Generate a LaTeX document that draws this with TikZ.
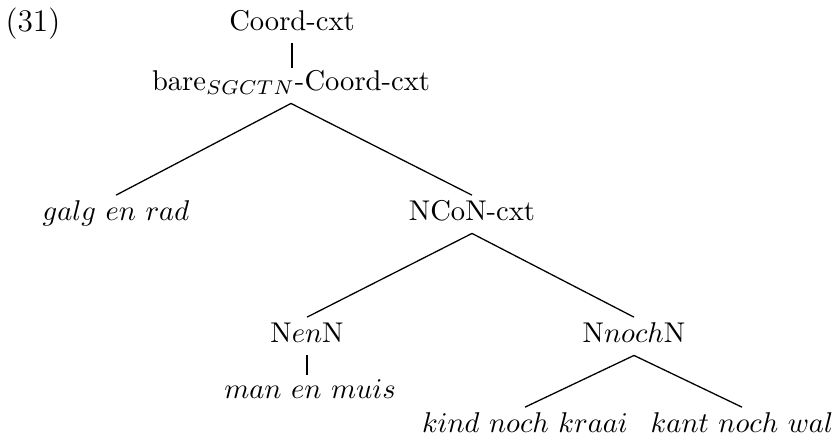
\documentclass[tikz,border=0pt]{standalone}
\begin{document}
\begin{tikzpicture}[x=0.35pt,y=-0.35pt,
  lbl/.style={anchor=base,inner xsep=0pt,inner ysep=1.5pt,text height=7pt,text depth=3pt},
  edge/.style={draw=black,line width=0.45pt}]
\useasboundingbox (0,0) rectangle (833,441);
\node[anchor=base west,inner sep=0pt,font=\fontsize{11}{13}\selectfont] (ex) at (5,31) {(31)};
\node[lbl] (root) at (292,30) {Coord-cxt};
\node[lbl] (bare) at (291,90) {bare$_{SGCTN}$-Coord-cxt};
\coordinate (bareTop) at (292,68);
\node[lbl] (galg) at (116,220) {$galg\ en\ rad$};
\node[lbl] (ncon) at (472,220) {NCoN-cxt};
\node[lbl] (nenn) at (307,342) {N$en$N};
\node[lbl] (nnoch) at (634,342) {N$noch$N};
\node[lbl] (muis) at (310,398) {$man\ en\ muis$};
\coordinate (muisTop) at (307,375);
\node[lbl] (kraai) at (525,432) {$kind\ noch\ kraai$};
\node[lbl] (kant) at (742,432) {$kant\ noch\ wal$};
\draw[edge] (root.south) -- (bareTop);
\draw[edge] (bare.south) -- (galg.north);
\draw[edge] (bare.south) -- (ncon.north);
\draw[edge] (ncon.south) -- (nenn.north);
\draw[edge] (ncon.south) -- (nnoch.north);
\draw[edge] (nenn.south) -- (muisTop);
\draw[edge] (nnoch.south) -- (kraai.north);
\draw[edge] (nnoch.south) -- (kant.north);
\end{tikzpicture}
\end{document}
